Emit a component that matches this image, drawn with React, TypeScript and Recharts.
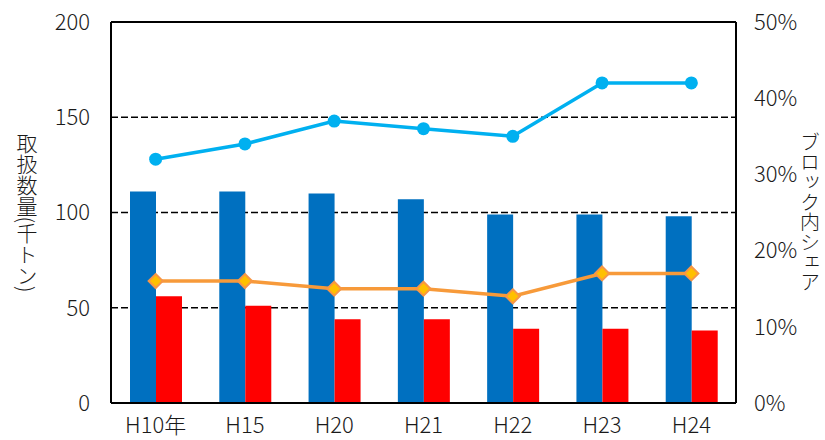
import { ComposedChart, Bar, Line, XAxis, YAxis, CartesianGrid, ReferenceLine } from "recharts";

const categories = ["H10年", "H15", "H20", "H21", "H22", "H23", "H24"];
const volumeBlue = [111, 111, 110, 107, 99, 99, 98];
const volumeRed = [56, 51, 44, 44, 39, 39, 38];
const shareCyan = [32, 34, 37, 36, 35, 42, 42];
const shareOrange = [16, 16, 15, 15, 14, 17, 17];
const leftTicks = [0, 50, 100, 150, 200];
const rightTicks = [0, 10, 20, 30, 40, 50];

const data = categories.map((c, i) => ({
  name: c,
  blue: volumeBlue[i],
  red: volumeRed[i],
  cyan: shareCyan[i],
  orange: shareOrange[i],
}));

const FONT = "'Noto Sans CJK JP', 'Noto Sans', sans-serif";

function Diamond(props: any) {
  const { cx, cy, index } = props;
  if (cx == null || cy == null) return <g key={index} />;
  const r = 7;
  return (
    <path
      key={index}
      d={`M${cx},${cy - r}L${cx + r},${cy}L${cx},${cy + r}L${cx - r},${cy}Z`}
      fill="#FFC000"
      stroke="#F79646"
      strokeWidth={2}
    />
  );
}

function VerticalLabel({ viewBox, text, dx, size }: any) {
  const x = viewBox.x + dx;
  const y = viewBox.y + viewBox.height / 2;
  return (
    <text
      x={x}
      y={y}
      textAnchor="middle"
      fontSize={size}
      fontWeight={300}
      fill="#1a1a1a"
      style={{ writingMode: "vertical-rl", fontFamily: FONT }}
    >
      {text}
    </text>
  );
}

const tickStyle = { fontSize: 22, fill: "#1a1a1a", fontFamily: FONT, fontWeight: 300 };

export default function App() {
  return (
    <div style={{ position: "absolute", left: 0, top: 0, width: 825, height: 440, background: "#fff" }}>
      <ComposedChart
        width={825}
        height={440}
        data={data}
        margin={{ top: 22, right: 0, bottom: 0, left: 0 }}
        barGap={0}
      >
        <CartesianGrid horizontal vertical={false} stroke="#000" strokeDasharray="7 3" strokeWidth={1.4} yAxisId="left" />
        <XAxis
          dataKey="name"
          height={37}
          tickLine={false}
          axisLine={{ stroke: "#000", strokeWidth: 2 }}
          tick={tickStyle}
          tickMargin={8}
          interval={0}
        />
        <YAxis
          yAxisId="left"
          width={111}
          domain={[0, 200]}
          ticks={leftTicks}
          tickLine={false}
          axisLine={{ stroke: "#000", strokeWidth: 2 }}
          tick={tickStyle}
          tickMargin={15}
          label={{ content: (p: any) => <VerticalLabel {...p} text="取扱数量(千トン)" dx={27} size={21} /> }}
        />
        <YAxis
          yAxisId="right"
          orientation="right"
          width={89}
          domain={[0, 50]}
          ticks={rightTicks}
          tickFormatter={(v: number) => `${v}%`}
          tickLine={false}
          axisLine={{ stroke: "#000", strokeWidth: 2 }}
          tick={{ ...tickStyle, textAnchor: "start" }}
          tickMargin={12}
          label={{ content: (p: any) => <VerticalLabel {...p} text="ブロック内シェア" dx={74} size={20} /> }}
        />
        <ReferenceLine yAxisId="left" y={200} stroke="#000" strokeWidth={2} />
        <Bar yAxisId="left" dataKey="blue" fill="#0070C0" barSize={26} isAnimationActive={false} />
        <Bar yAxisId="left" dataKey="red" fill="#FF0000" barSize={26} isAnimationActive={false} />
        <Line
          yAxisId="right"
          dataKey="cyan"
          stroke="#00B0F0"
          strokeWidth={3.5}
          dot={{ r: 6.5, fill: "#00B0F0", stroke: "none" }}
          isAnimationActive={false}
        />
        <Line
          yAxisId="right"
          dataKey="orange"
          stroke="#F79A3A"
          strokeWidth={3.5}
          dot={(p: any) => <Diamond {...p} />}
          isAnimationActive={false}
        />
      </ComposedChart>
    </div>
  );
}
